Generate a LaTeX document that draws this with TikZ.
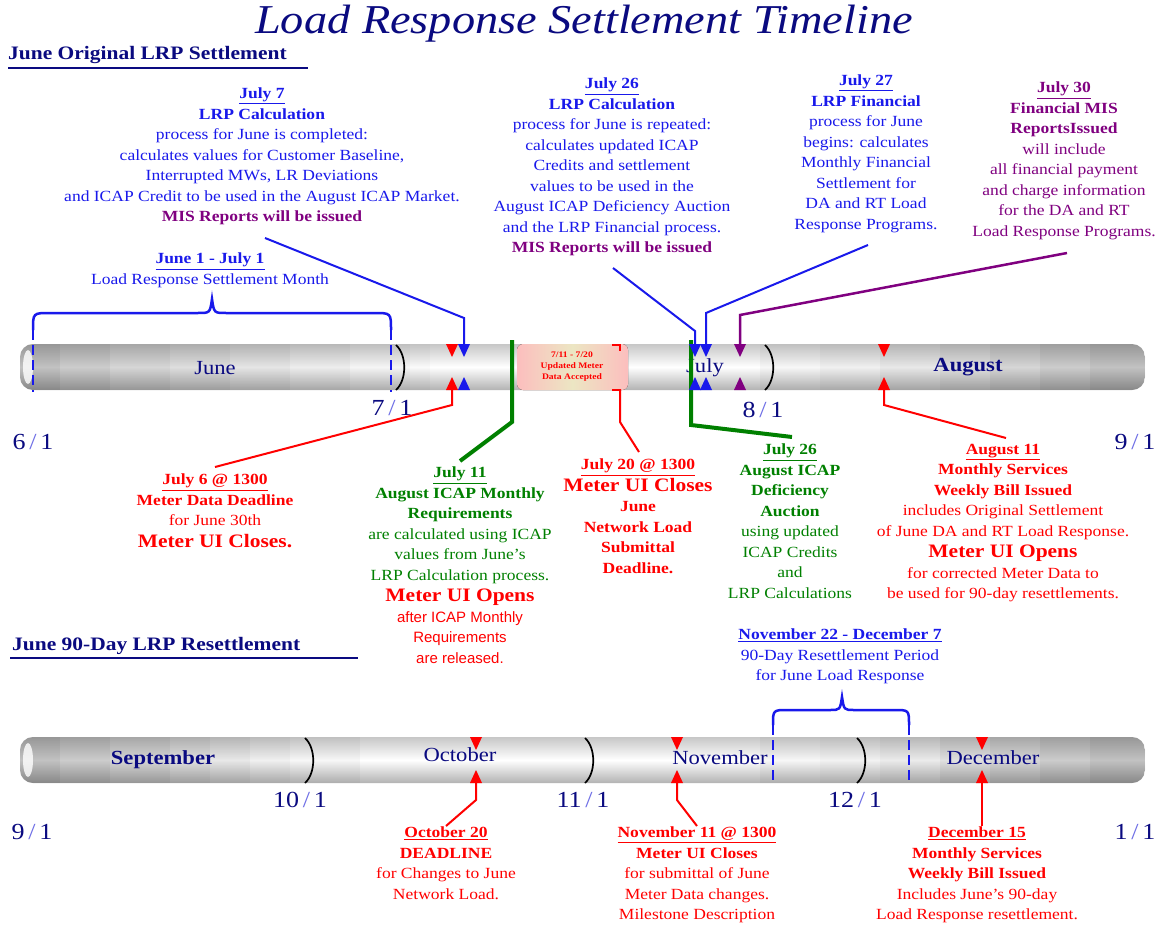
\documentclass[tikz,border=0pt]{standalone}
\usepackage{fontspec}
\setmainfont{Liberation Serif}[FakeStretch=1.13]
\newfontfamily\sansf{Liberation Sans}
\definecolor{mynavy}{RGB}{10,10,128}
\definecolor{myblue}{RGB}{25,25,235}
\definecolor{mypurple}{RGB}{128,0,128}
\definecolor{mygreen}{RGB}{0,128,0}
\definecolor{myred}{RGB}{255,0,0}
\definecolor{slashc}{RGB}{110,110,230}
\definecolor{pinkc}{RGB}{252,190,190}
\definecolor{creamc}{RGB}{236,230,195}
\newcommand\lgtxt[1]{{\fontsize{19}{21}\selectfont\textbf{#1}}}
\newcommand\dlab[2]{#1{\color{slashc}\,/\,}#2}
\newcommand\mktri[4]{%
  \fill[#2] (#1-6,#3) -- (#1+6,#3) -- (#1,#3+13) -- cycle;
  \fill[#2] (#1-6,#4) -- (#1+6,#4) -- (#1,#4-13) -- cycle;}
% darkening step: x1 x2 ytop ybot opacity
\newcommand\stp[5]{\fill[black, fill opacity=#5] (#1,#3) rectangle (#2,#4);}
\tikzset{
  txt/.style={align=center, inner sep=0pt, anchor=north, font=\fontsize{15.5}{20.5}\selectfont},
  month/.style={inner sep=0pt, text=mynavy, font=\fontsize{20}{20}\selectfont},
  monthb/.style={inner sep=0pt, text=mynavy, font=\fontsize{20}{20}\selectfont\bfseries},
  datelab/.style={inner sep=0pt, text=mynavy, font=\fontsize{23}{23}\selectfont},
  heading/.style={inner sep=0pt, anchor=west, text=mynavy, font=\fontsize{19}{19}\selectfont\bfseries},
  bluel/.style={draw=myblue, line width=2pt},
  redl/.style={draw=myred, line width=2pt},
  purpl/.style={draw=mypurple, line width=2.5pt},
  greenl/.style={draw=mygreen, line width=4pt},
  paren/.style={draw=black, line width=1.7pt},
  dashb/.style={draw=myblue, line width=2.5pt, dash pattern=on 10pt off 5pt},
  braceb/.style={draw=myblue, line width=2.5pt},
  tube/.style={top color=black!22, bottom color=black!30, middle color=white},
}
\begin{document}
\begin{tikzpicture}[x=1pt,y=-1pt]
\useasboundingbox (0,0) rectangle (1164,928);
\fill[white] (0,0) rectangle (1164,928);

% title and headings
\node[text=mynavy, font=\fontsize{41}{41}\selectfont\itshape] (title) at (584,24) {Load Response Settlement Timeline};
\node[heading] (h1) at (8,55) {June Original LRP Settlement};
\coordinate (h1a) at (8,68); \coordinate (h1b) at (308,68);
\draw[mynavy, line width=1.8pt] (h1a) -- (h1b);
\node[heading] (h2) at (12,646) {June 90-Day LRP Resettlement};
\coordinate (h2a) at (10,658); \coordinate (h2b) at (358,658);
\draw[mynavy, line width=1.8pt] (h2a) -- (h2b);

% ---------- bar 1 ----------
\begin{scope}
\clip[rounded corners=13pt] (20,344) rectangle (1145,390);
\shade[tube] (20,344) rectangle (1145,390);
\stp{20}{60}{344}{390}{.24}\stp{60}{110}{344}{390}{.2}\stp{110}{170}{344}{390}{.16}
\stp{170}{230}{344}{390}{.13}\stp{230}{290}{344}{390}{.1}\stp{290}{350}{344}{390}{.07}
\stp{350}{410}{344}{390}{.04}\stp{410}{430}{344}{390}{.02}
\stp{1090}{1145}{344}{390}{.24}\stp{1040}{1090}{344}{390}{.2}\stp{990}{1040}{344}{390}{.16}
\stp{940}{990}{344}{390}{.12}\stp{880}{940}{344}{390}{.09}\stp{820}{880}{344}{390}{.06}
\stp{760}{820}{344}{390}{.03}
\end{scope}
\fill[white, opacity=0.8] (28,367) ellipse (5 and 17);
% pink box
\fill[left color=pinkc, right color=pinkc, middle color=creamc, rounded corners=6pt] (517,344) rectangle (628,390);
\node[text=myred, align=center, inner sep=0pt, font=\fontsize{8.5}{11}\selectfont\bfseries] (pink) at (572,367) {7/11 - 7/20\\Updated Meter\\Data Accepted};

% ---------- bar 2 ----------
\begin{scope}
\clip[rounded corners=13pt] (20,737) rectangle (1145,783);
\shade[tube] (20,737) rectangle (1145,783);
\stp{20}{60}{737}{783}{.24}\stp{60}{110}{737}{783}{.2}\stp{110}{170}{737}{783}{.16}
\stp{170}{210}{737}{783}{.12}\stp{210}{250}{737}{783}{.09}\stp{250}{290}{737}{783}{.06}
\stp{290}{360}{737}{783}{.03}
\stp{1090}{1145}{737}{783}{.24}\stp{1040}{1090}{737}{783}{.2}\stp{990}{1040}{737}{783}{.16}
\stp{940}{990}{737}{783}{.12}\stp{880}{940}{737}{783}{.08}\stp{820}{880}{737}{783}{.05}
\stp{760}{820}{737}{783}{.03}
\end{scope}
\fill[white, opacity=0.8] (28,760) ellipse (5 and 17);

% month dividers
\draw[paren] (396,345) .. controls (407,355) and (407,380) .. (396,390);
\draw[paren] (765,345) .. controls (776,355) and (776,380) .. (765,390);
\draw[paren] (305,738) .. controls (316,748) and (316,773) .. (305,783);
\draw[paren] (585,738) .. controls (596,748) and (596,773) .. (585,783);
\draw[paren] (857,738) .. controls (868,748) and (868,773) .. (857,783);

% month names
\node[month] (mjun) at (215,368) {June};
\node[month] (mjul) at (705,368) {July};
\node[monthb] (maug) at (968,367) {August};
\node[monthb] (msep) at (163,760) {September};
\node[month] (moct) at (460,755) {October};
\node[month] (mnov) at (720,758) {November};
\node[month] (mdec) at (993,758) {December};

% date labels
\node[datelab] (d71) at (392,408) {\dlab{7}{1}};
\node[datelab] (d81) at (763,410) {\dlab{8}{1}};
\node[datelab] (d61) at (33,442) {\dlab{6}{1}};
\node[datelab] (d91) at (1135,442) {\dlab{9}{1}};
\node[datelab] (d101) at (300,800) {\dlab{10}{1}};
\node[datelab] (d111) at (583,800) {\dlab{11}{1}};
\node[datelab] (d121) at (855,800) {\dlab{12}{1}};
\node[datelab] (d91b) at (32,832) {\dlab{9}{1}};
\node[datelab] (d11) at (1135,832) {\dlab{1}{1}};

% braces
\coordinate (b1l) at (33,330); \coordinate (b1r) at (391,330);
\draw[braceb] (b1l) .. controls (33,313) .. (50,313) -- (198,313) .. controls (210,313) .. (212,299) .. controls (214,313) .. (226,313) -- (374,313) .. controls (391,313) .. (b1r);
\coordinate (b1lb) at (33,392); \coordinate (b1rb) at (391,392);
\draw[dashb] (b1l) -- (b1lb);
\draw[dashb] (b1r) -- (b1rb);
\coordinate (b2l) at (773,725); \coordinate (b2r) at (909,725);
\draw[braceb] (b2l) .. controls (773,710) .. (788,710) -- (830,710) .. controls (840,710) .. (842,697) .. controls (844,710) .. (854,710) -- (894,710) .. controls (909,710) .. (b2r);
\coordinate (b2lb) at (773,783); \coordinate (b2rb) at (909,783);
\draw[dashb] (b2l) -- (b2lb);
\draw[dashb] (b2r) -- (b2rb);

% green connectors (behind triangles)
\coordinate (g1a) at (512,340); \coordinate (g1b) at (512,422); \coordinate (g1c) at (460,461);
\draw[greenl] (g1a) -- (g1b) -- (g1c);
\coordinate (g2a) at (691,340); \coordinate (g2b) at (691,425); \coordinate (g2c) at (792,437);
\draw[greenl] (g2a) -- (g2b) -- (g2c);

% triangles bar 1
\mktri{452}{myred}{344}{390}
\mktri{464}{myblue}{344}{390}
\mktri{695}{myblue}{344}{390}
\mktri{706}{myblue}{344}{390}
\mktri{740}{mypurple}{344}{390}
\mktri{884}{myred}{344}{390}
% triangles bar 2
\mktri{476}{myred}{737}{783}
\mktri{677}{myred}{737}{783}
\mktri{982}{myred}{737}{783}

% red bracket at 7/20
\coordinate (rb1) at (612,345); \coordinate (rb2) at (620,345); \coordinate (rb3) at (620,351);
\draw[redl] (rb1) -- (rb2) -- (rb3);
\coordinate (rb4) at (612,390); \coordinate (rb5) at (620,390);
\draw[redl] (rb4) -- (rb5);

% connectors bar 1
\coordinate (c7a) at (265,238); \coordinate (c7b) at (464,318); \coordinate (c7c) at (464,345);
\draw[bluel] (c7a) -- (c7b) -- (c7c);
\coordinate (c26a) at (613,268); \coordinate (c26b) at (695,331); \coordinate (c26c) at (695,345);
\draw[bluel] (c26a) -- (c26b) -- (c26c);
\coordinate (c27a) at (868,245); \coordinate (c27b) at (706,313); \coordinate (c27c) at (706,345);
\draw[bluel] (c27a) -- (c27b) -- (c27c);
\coordinate (c30a) at (1067,253); \coordinate (c30b) at (740,315); \coordinate (c30c) at (740,345);
\draw[purpl] (c30a) -- (c30b) -- (c30c);
\coordinate (c6a) at (452,389); \coordinate (c6b) at (452,405); \coordinate (c6c) at (215,467);
\draw[redl] (c6a) -- (c6b) -- (c6c);
\coordinate (c20a) at (620,389); \coordinate (c20b) at (620,422); \coordinate (c20c) at (639,452);
\draw[redl] (c20a) -- (c20b) -- (c20c);
\coordinate (c11a) at (884,389); \coordinate (c11b) at (884,405); \coordinate (c11c) at (1006,438);
\draw[redl] (c11a) -- (c11b) -- (c11c);
% connectors bar 2
\coordinate (co20a) at (476,782); \coordinate (co20b) at (476,800); \coordinate (co20c) at (446,826);
\draw[redl] (co20a) -- (co20b) -- (co20c);
\coordinate (cn11a) at (677,782); \coordinate (cn11b) at (677,800); \coordinate (cn11c) at (697,826);
\draw[redl] (cn11a) -- (cn11b) -- (cn11c);
\coordinate (cd15a) at (982,782); \coordinate (cd15b) at (982,826);
\draw[redl] (cd15a) -- (cd15b);

% ---------- text blocks ----------
\node[txt, text=myblue] (t7) at (262,88) {\underline{\textbf{July 7}}\\ \textbf{LRP Calculation}\\ process for June is completed:\\ calculates values for Customer Baseline,\\ Interrupted MWs, LR Deviations\\ and ICAP Credit to be used in the August ICAP Market.\\ \textcolor{mypurple}{\textbf{MIS Reports will be issued}}};

\node[txt, text=myblue] (t26) at (612,78) {\underline{\textbf{July 26}}\\ \textbf{LRP Calculation}\\ process for June is repeated:\\ calculates updated ICAP\\ Credits and settlement\\ values to be used in the\\ August ICAP Deficiency Auction\\ and the LRP Financial process.\\ \textcolor{mypurple}{\textbf{MIS Reports will be issued}}};

\node[txt, text=myblue] (t27) at (866,75) {\underline{\textbf{July 27}}\\ \textbf{LRP Financial}\\ process for June\\ begins: calculates\\ Monthly Financial\\ Settlement for\\ DA and RT Load\\ Response Programs.};

\node[txt, text=mypurple] (t30) at (1064,82) {\underline{\textbf{July 30}}\\ \textbf{Financial MIS}\\ \textbf{ReportsIssued}\\ will include\\ all financial payment\\ and charge information\\ for the DA and RT\\ Load Response Programs.};

\node[txt, text=myblue] (tjun) at (210,253) {\underline{\textbf{June 1 - July 1}}\\ Load Response Settlement Month};

\node[txt, text=myred] (t6) at (215,474) {\underline{\textbf{July 6 @ 1300}}\\ \textbf{Meter Data Deadline}\\ for June 30th\\[1pt] \lgtxt{Meter UI Closes.}};

\node[txt, text=mygreen] (t11) at (460,467) {\underline{\textbf{July 11}}\\ \textbf{August ICAP Monthly}\\ \textbf{Requirements}\\ are calculated using ICAP\\ values from June's\\ LRP Calculation process.\\[1pt] \textcolor{myred}{\lgtxt{Meter UI Opens}}\\ \textcolor{myred}{\sansf\fontsize{15}{20.5}\selectfont after ICAP Monthly}\\ \textcolor{myred}{\sansf\fontsize{15}{20.5}\selectfont Requirements}\\ \textcolor{myred}{\sansf\fontsize{15}{20.5}\selectfont are released.}};

\node[txt, text=myred] (t20) at (638,459) {\underline{\textbf{July 20 @ 1300}}\\[1pt] \lgtxt{Meter UI Closes}\\ \textbf{June}\\ \textbf{Network Load}\\ \textbf{Submittal}\\ \textbf{Deadline.}};

\node[txt, text=mygreen] (t26b) at (790,444) {\underline{\textbf{July 26}}\\ \textbf{August ICAP}\\ \textbf{Deficiency}\\ \textbf{Auction}\\ using updated\\ ICAP Credits\\ and\\ LRP Calculations};

\node[txt, text=myred] (t811) at (1003,444) {\underline{\textbf{August 11}}\\ \textbf{Monthly Services}\\ \textbf{Weekly Bill Issued}\\ includes Original Settlement\\ of June DA and RT Load Response.\\[1pt] \lgtxt{Meter UI Opens}\\ for corrected Meter Data to\\ be used for 90-day resettlements.};

\node[txt, text=myblue] (tnov22) at (840,629) {\underline{\textbf{November 22 - December 7}}\\ 90-Day Resettlement Period\\ for June Load Response};

\node[txt, text=myred] (to20) at (446,827) {\underline{\textbf{October 20}}\\ \textbf{DEADLINE}\\ for Changes to June\\ Network Load.};

\node[txt, text=myred] (tn11) at (697,827) {\underline{\textbf{November 11 @ 1300}}\\ \textbf{Meter UI Closes}\\ for submittal of June\\ Meter Data changes.\\ Milestone Description};

\node[txt, text=myred] (td15) at (977,827) {\underline{\textbf{December 15}}\\ \textbf{Monthly Services}\\ \textbf{Weekly Bill Issued}\\ Includes June's 90-day\\ Load Response resettlement.};
\end{tikzpicture}
\end{document}
